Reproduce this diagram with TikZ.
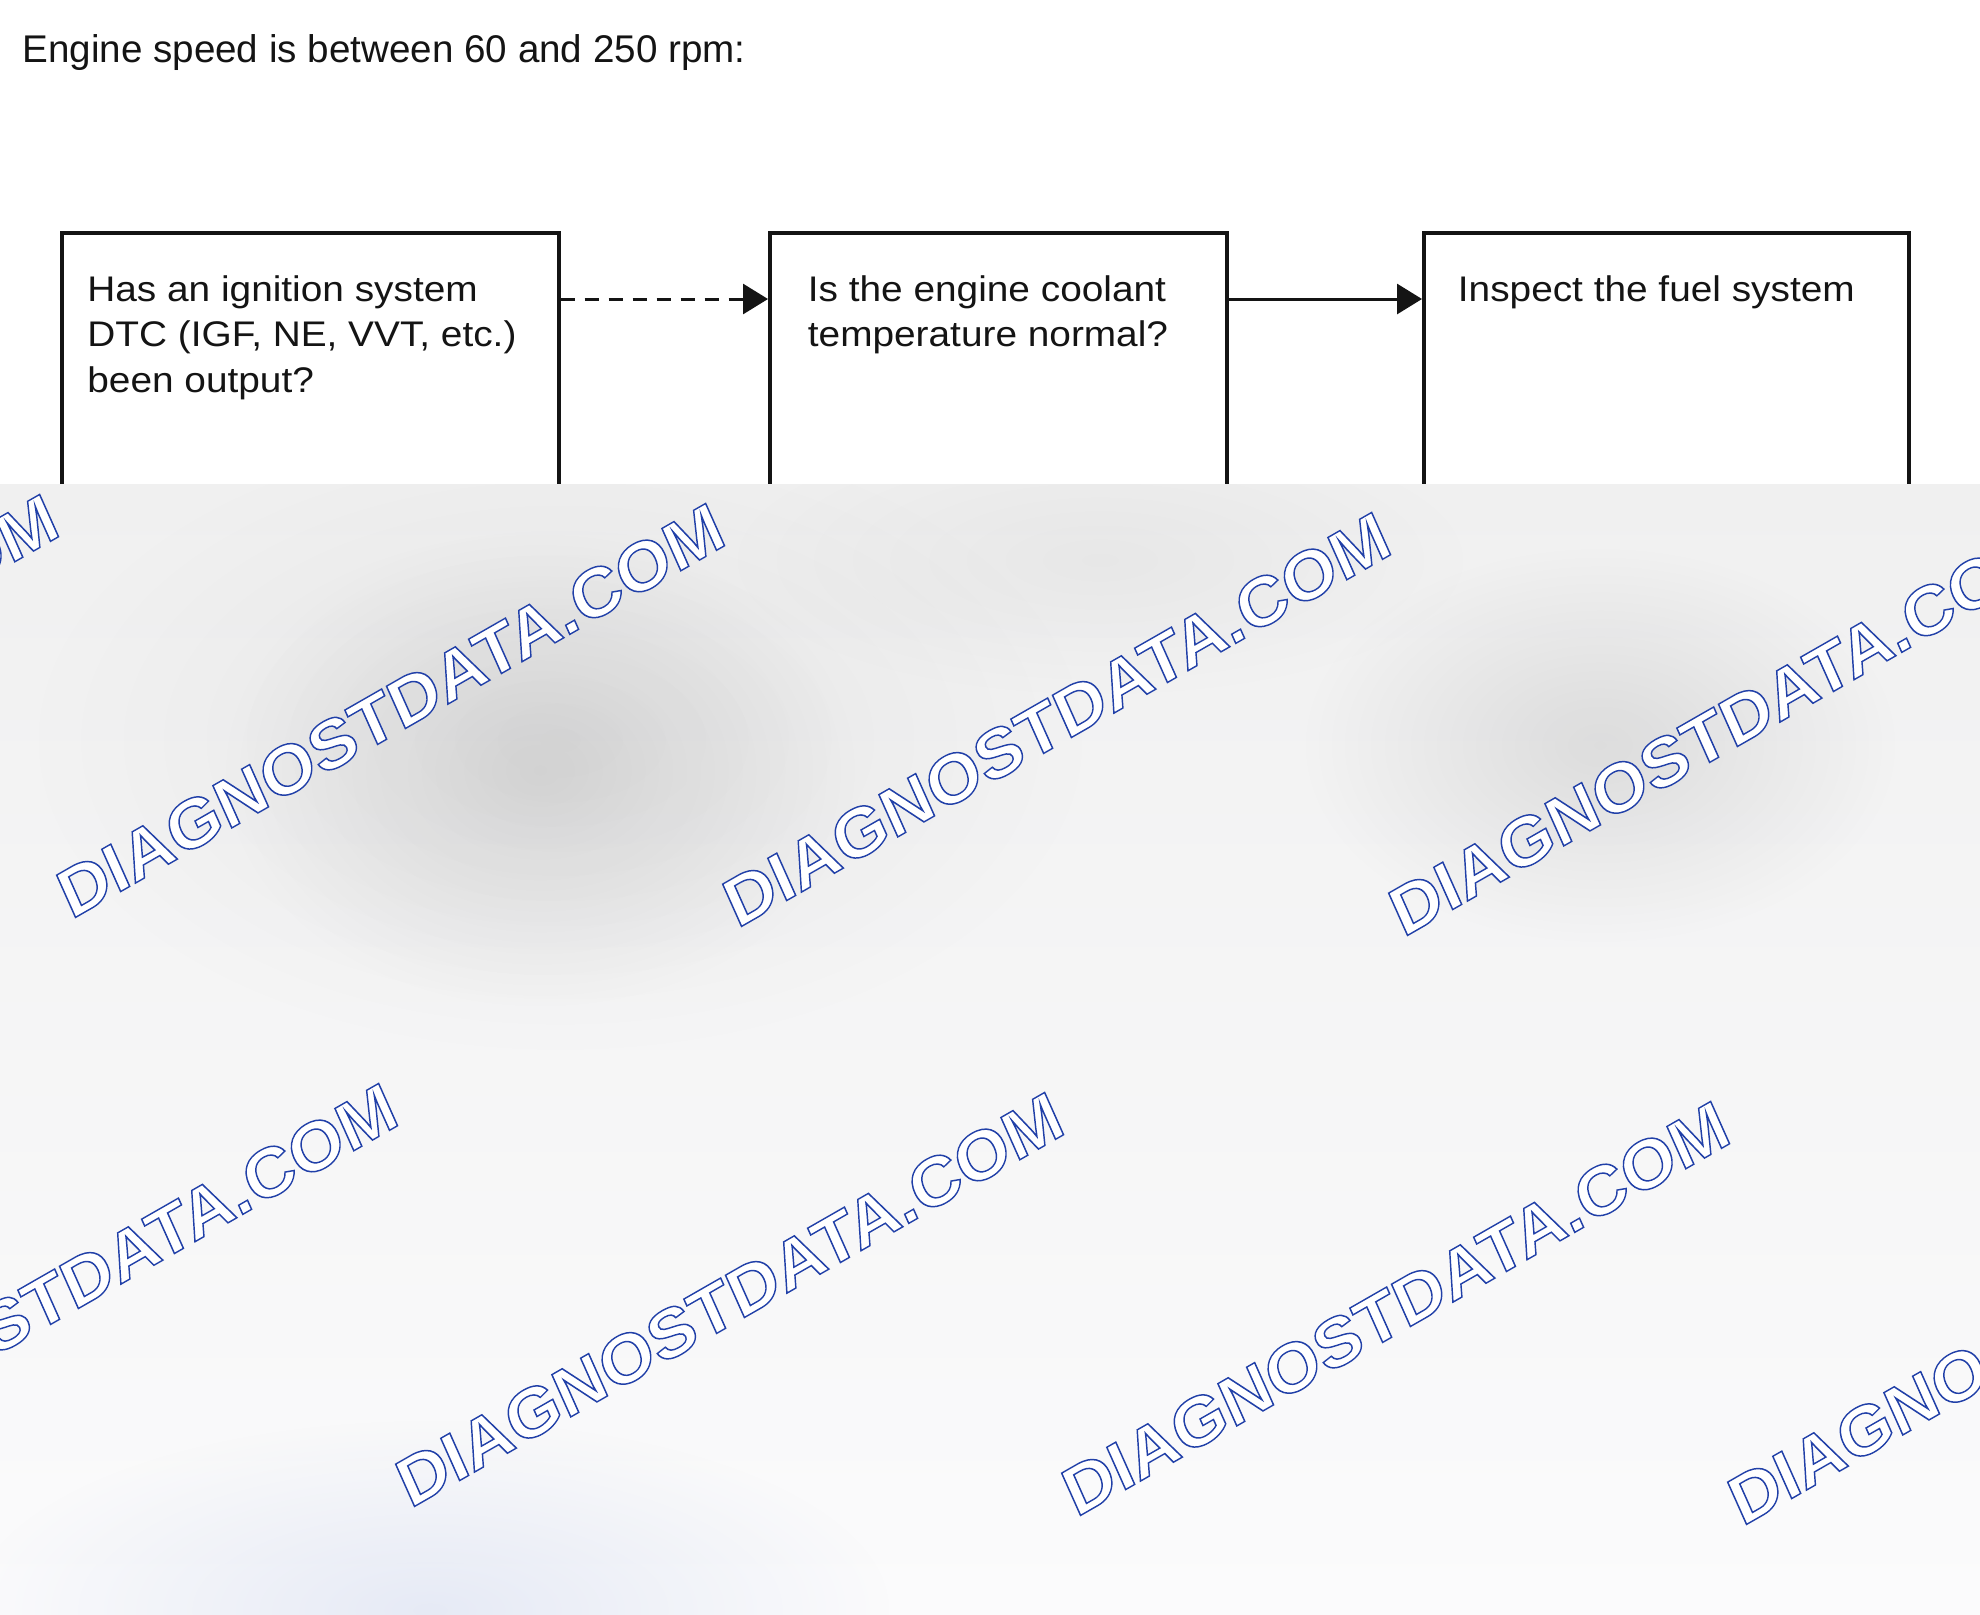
\documentclass[tikz,border=0pt]{standalone}
\usepackage{fontspec}
\setmainfont{Liberation Sans}
\newfontfamily\titlefont{Liberation Sans}
\newfontfamily\boxfont{Liberation Sans}[FakeStretch=1.09]
\newfontfamily\wmfont{Liberation Sans}
\usetikzlibrary{arrows.meta,fadings,calc}
\tikzfading[name=softblob, inner color=transparent!0, outer color=transparent!100]
\definecolor{bandtop}{RGB}{240,240,240}
\definecolor{bandbot}{RGB}{251,251,252}
\definecolor{ink}{RGB}{20,20,20}
\definecolor{bluetint}{RGB}{205,214,238}
\tikzset{
  box/.style={draw=ink, line width=1.75pt, minimum height=200pt, inner sep=0pt, fill=white, anchor=north west},
  boxtext/.style={anchor=base west, inner sep=0pt, text=ink, font=\boxfont\fontsize{17.8}{22.75}\selectfont},
  titletext/.style={anchor=base west, inner sep=0pt, text=ink, font=\titlefont\fontsize{19.3}{23}\selectfont},
  conn/.style={draw=ink, line width=1.5pt, -{Triangle[length=12.5pt,width=15pt]}},
  dashconn/.style={conn, dash pattern=on 7pt off 5pt},
  wmtext/.style={anchor=base west, inner sep=0pt, transform shape, font=\wmfont\bfseries\fontsize{33.5}{36}\selectfont},
  blob/.style={path fading=softblob}
}
% outlined watermark text: white fill, thin blue stroke (PDF text render mode 2)
\newcommand{\outlined}[1]{\special{pdf:literal direct 2 Tr 0.7 w 1 1 1 rg 0.13 0.25 0.66 RG}#1\special{pdf:literal direct 0 Tr}}
\newcommand{\wmark}[2]{%
  \begin{scope}[shift={#2}, rotate=29.8, xslant=0.1, xscale=1.075]
    \node[wmtext] (#1) at (0,0) {\outlined{DIAGNOSTDATA.COM}};
  \end{scope}}
\begin{document}
\begin{tikzpicture}[x=0.5pt, y=-0.5pt]
  \fill[white] (0,0) rectangle (1980,1614);
  \useasboundingbox (0,0) rectangle (1980,1614);

  % title
  \node[titletext] (title) at (22,62) {Engine speed is between 60 and 250 rpm:};

  % boxes
  \node[box, minimum width=248.5pt] (b1) at (60,231) {};
  \node[box, minimum width=228.5pt] (b2) at (768,231) {};
  \node[box, minimum width=242.5pt] (b3) at (1422,231) {};

  % box texts
  \node[boxtext] (t1) at (87,301) {\begin{tabular}[t]{@{}l@{}}Has an ignition system\\DTC (IGF, NE, VVT, etc.)\\been output?\end{tabular}};
  \node[boxtext] (t2) at (807.5,301) {\begin{tabular}[t]{@{}l@{}}Is the engine coolant\\temperature normal?\end{tabular}};
  \node[boxtext] (t3) at (1457.5,301) {Inspect the fuel system};

  % connectors
  \draw[dashconn] ($(b1.north east)+(0,68)$) -- ($(b2.north west)+(0,68)$);
  \draw[conn] ($(b2.north east)+(0,68)$) -- ($(b3.north west)+(0,68)$);

  % watermark band
  \begin{scope}
    \clip (0,484) rectangle (1980,1614);
    \shade[top color=bandtop, bottom color=bandbot] (0,484) rectangle (1980,1614);
    \fill[black, opacity=0.05, blob] (560,740) ellipse [x radius=540, y radius=320];
    \fill[black, opacity=0.09, blob] (540,770) ellipse [x radius=320, y radius=240];
    \fill[black, opacity=0.09, blob] (1600,745) ellipse [x radius=300, y radius=200];
    \fill[black, opacity=0.04, blob] (1100,560) ellipse [x radius=380, y radius=140];
    \fill[bluetint, opacity=0.45, blob] (430,1610) ellipse [x radius=460, y radius=190];

    \wmark{wm1}{(-595,911)}
    \wmark{wm2}{(71,920)}
    \wmark{wm3}{(737,929)}
    \wmark{wm4}{(1403,938)}
    \wmark{wm5}{(-256,1500)}
    \wmark{wm6}{(410,1509)}
    \wmark{wm7}{(1076,1518)}
    \wmark{wm8}{(1742,1527)}
  \end{scope}
\end{tikzpicture}
\end{document}
